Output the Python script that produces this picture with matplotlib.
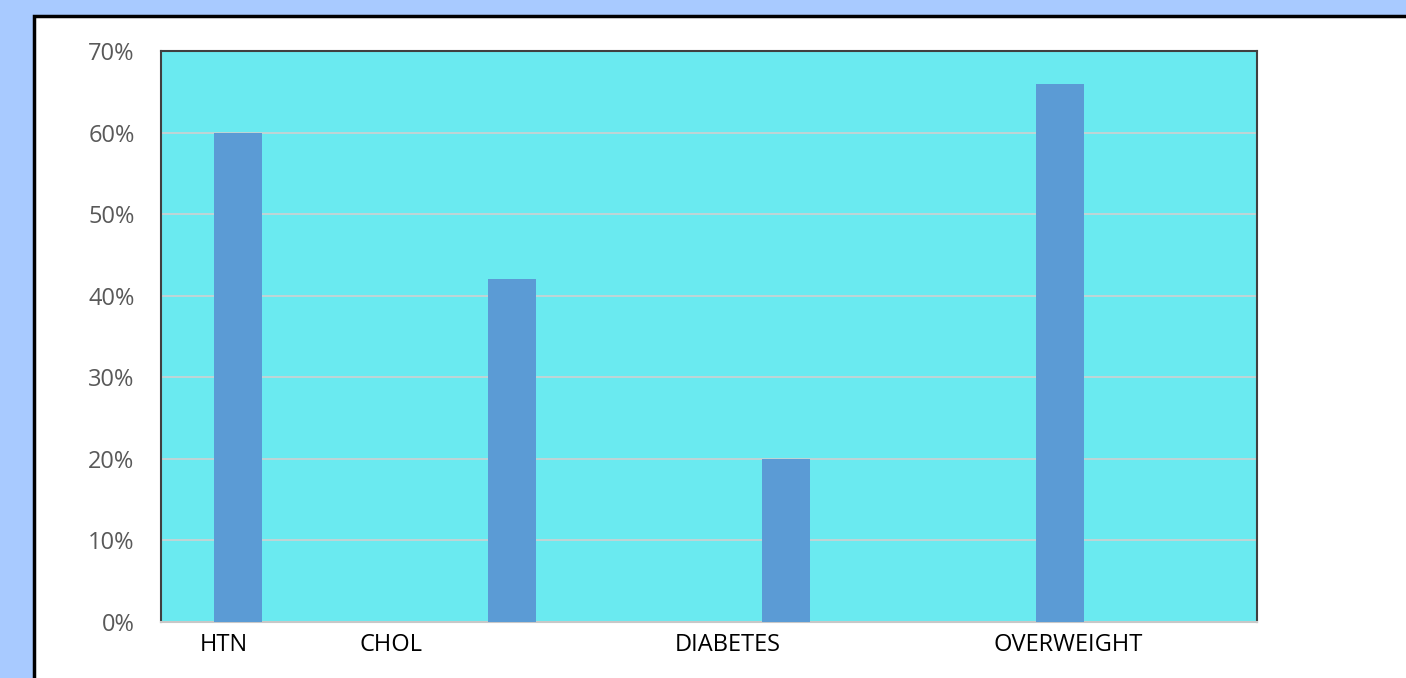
import numpy as np
import matplotlib.pyplot as plt
from matplotlib.patches import Rectangle
from matplotlib.ticker import PercentFormatter

categories = ['HTN', 'CHOL', 'DIABETES', 'OVERWEIGHT']
values = [60, 42, 20, 66]
# label positions (the original labels are not centred on the bars)
label_pos = [-0.27, 0.34, 1.57, 2.81]

fig = plt.figure(figsize=(14.06, 6.78), dpi=100, facecolor='#a8caff')

# white slide panel with black border
panel = Rectangle((34 / 1406, -0.05), 1.0, 1 - 16 / 678 + 0.05, transform=fig.transFigure,
                  facecolor='white', edgecolor='black', linewidth=2.5, zorder=-5)
fig.patches.append(panel)

ax = fig.add_axes([161 / 1406, 56 / 678, 1096 / 1406, 571 / 678])
ax.set_zorder(2)
ax.set_facecolor('#6aeaf0')

x = np.arange(len(categories))
ax.bar(x - 0.22, values, width=0.175, color='#5b9bd5', zorder=3)

ax.set_xlim(-0.5, 3.5)
ax.set_ylim(0, 70)
ax.set_yticks(range(0, 71, 10))
ax.yaxis.set_major_formatter(PercentFormatter(decimals=0))
ax.grid(axis='y', color='#d0d0d0', linewidth=1.2, zorder=1)

ax.set_xticks(label_pos)
ax.set_xticklabels(categories)
ax.tick_params(axis='x', length=0, pad=8, labelsize=17, labelcolor='black')
ax.tick_params(axis='y', length=0, pad=19, labelsize=17, labelcolor='#595959')
for lab in ax.get_xticklabels() + ax.get_yticklabels():
    lab.set_family('Open Sans')

for side in ['top', 'right', 'left']:
    ax.spines[side].set_color('#404040')
    ax.spines[side].set_linewidth(1.5)
ax.spines['bottom'].set_color('#c8c8c8')
ax.spines['bottom'].set_linewidth(1.5)

fig.savefig('out.png', dpi=100, facecolor=fig.get_facecolor())
